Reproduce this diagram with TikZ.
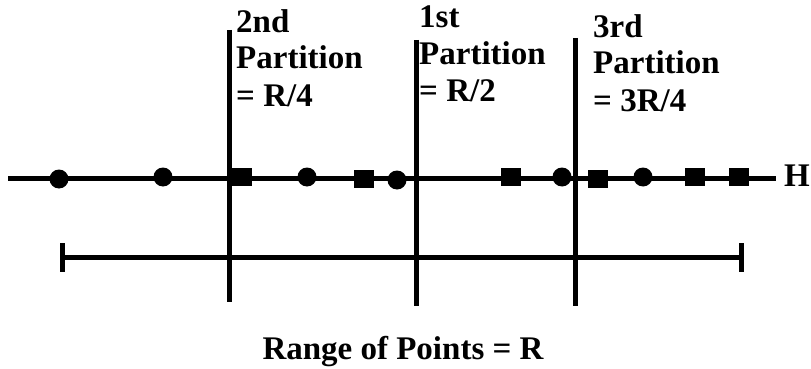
\documentclass[tikz,border=0pt]{standalone}
\usepackage{fontspec}
\setmainfont{Liberation Serif}
\begin{document}
\begin{tikzpicture}[x=1pt,y=-1pt,
  ln/.style={line width=5pt},
  dot/.style={circle,fill=black,inner sep=0pt,minimum size=19pt},
  sq/.style={rectangle,fill=black,inner sep=0pt,minimum width=20pt,minimum height=18pt},
  lbl/.style={anchor=base west,inner sep=0pt,font=\fontsize{33}{36}\selectfont\bfseries}]
\useasboundingbox (0,0) rectangle (811,369);
% axis H
\coordinate (hs) at (8,178);
\coordinate (he) at (776,178);
\draw[ln] (hs) -- (he);
\node[lbl] (H) at (784,186) {H};
% partitions
\coordinate (p2t) at (229,30);  \coordinate (p2b) at (229,302);
\coordinate (p1t) at (416,40);  \coordinate (p1b) at (416,306);
\coordinate (p3t) at (575,38);  \coordinate (p3b) at (575,306);
\draw[ln] (p2t) -- (p2b);
\draw[ln] (p1t) -- (p1b);
\draw[ln] (p3t) -- (p3b);
% range bar
\coordinate (rl) at (62,257); \coordinate (rr) at (741,257);
\coordinate (rlt) at (62,243); \coordinate (rlb) at (62,272);
\coordinate (rrt) at (741,243); \coordinate (rrb) at (741,272);
\draw[ln] (rl) -- (rr);
\draw[ln] (rlt) -- (rlb);
\draw[ln] (rrt) -- (rrb);
% points
\node[dot] (c1) at (59,179) {};
\node[dot] (c2) at (163,177) {};
\node[dot] (c3) at (307,177) {};
\node[dot] (c4) at (397,180) {};
\node[dot] (c5) at (562,177) {};
\node[dot] (c6) at (643,177) {};
\node[sq] (s1) at (242,177) {};
\node[sq] (s2) at (364,179) {};
\node[sq] (s3) at (511,177) {};
\node[sq] (s4) at (598,179) {};
\node[sq] (s5) at (695,177) {};
\node[sq] (s6) at (739,177) {};
% labels
\node[lbl] (a1) at (236,33) {2nd};
\node[lbl] (a2) at (236,69) {Partition};
\node[lbl] (a3) at (236,106) {= R/4};
\node[lbl] (b1) at (419,28) {1st};
\node[lbl] (b2) at (419,64) {Partition};
\node[lbl] (b3) at (419,101) {= R/2};
\node[lbl] (d1) at (593,38) {3rd};
\node[lbl] (d2) at (593,74) {Partition};
\node[lbl] (d3) at (593,111) {= 3R/4};
\node[lbl,anchor=base] (rng) at (403,359) {Range of Points = R};
\end{tikzpicture}
\end{document}
